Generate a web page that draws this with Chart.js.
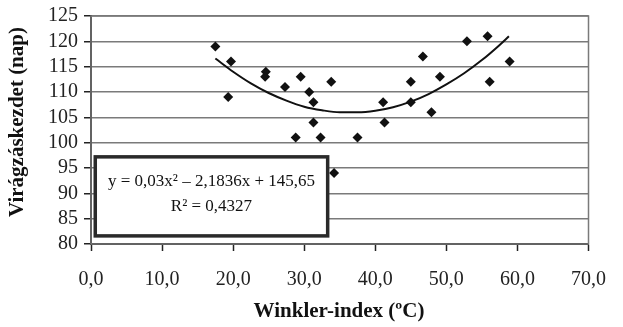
<!DOCTYPE html>
<html>
<head>
<meta charset="utf-8">
<script src="https://cdn.jsdelivr.net/npm/chart.js@4/dist/chart.umd.min.js"></script>
<style>
  html, body { margin: 0; padding: 0; background: #fff; }
  #wrap { width: 623px; height: 327px; }
</style>
</head>
<body>
<div id="wrap"><canvas id="chart" width="623" height="327"></canvas></div>
<script>
const winklerX = [17.5, 19.7, 19.3, 24.6, 24.5, 27.3, 29.5, 28.8, 30.7, 31.3, 31.3, 32.3, 33.8,
  34.2, 37.5, 41.1, 41.3, 45.0, 45.0, 46.7, 47.9, 49.1, 52.9, 55.8, 56.1, 58.9];
const bloomDays = [119, 116, 109, 114, 113, 111, 113, 101, 110, 108, 104, 101, 112,
  94, 101, 108, 104, 112, 108, 117, 106, 113, 120, 121, 112, 116];

// trend curve as drawn
const trendX = [17.5, 20, 22.5, 25, 27.5, 30, 32.5, 35, 37.5, 40, 42.5, 45, 47.5, 50, 52.5, 55, 57.5, 58.8];
const trendY = [116.6, 114.0, 111.7, 109.8, 108.3, 107.1, 106.4, 106.0, 106.0, 106.3, 107.0, 108.1, 109.6, 111.5, 113.7, 116.3, 119.3, 121.0];

const xTickLabels = ['0,0', '10,0', '20,0', '30,0', '40,0', '50,0', '60,0', '70,0'];
const yTickLabels = ['80', '85', '90', '95', '100', '105', '110', '115', '120', '125'];

const xTitle = 'Winkler-index (ºC)';
const yTitle = 'Virágzáskezdet (nap)';
const equationLines = ['y = 0,03x² – 2,1836x + 145,65', 'R² = 0,4327'];

const SERIF = '"Liberation Serif", "DejaVu Serif", serif';

const frame = {
  id: 'frame',
  beforeDatasetsDraw(chart) {
    const { ctx, chartArea: a } = chart;
    ctx.save();
    ctx.strokeStyle = '#7a7a7a';
    ctx.lineWidth = 1.5;
    ctx.strokeRect(a.left, a.top, a.right - a.left, a.bottom - a.top);
    ctx.restore();
  },
  afterDatasetsDraw(chart) {
    const { ctx, scales } = chart;
    // equation box
    const x0 = scales.x.getPixelForValue(0.6), x1 = scales.x.getPixelForValue(33.3);
    const y0 = scales.y.getPixelForValue(97.2), y1 = scales.y.getPixelForValue(81.6);
    ctx.save();
    ctx.fillStyle = '#fff';
    ctx.fillRect(x0, y0, x1 - x0, y1 - y0);
    ctx.strokeStyle = '#2a2a2a';
    ctx.lineWidth = 3.5;
    ctx.strokeRect(x0, y0, x1 - x0, y1 - y0);
    ctx.fillStyle = '#111';
    ctx.font = '17px ' + SERIF;
    ctx.textAlign = 'center';
    ctx.textBaseline = 'middle';
    ctx.fillText(equationLines[0], (x0 + x1) / 2, 182);
    ctx.fillText(equationLines[1], (x0 + x1) / 2, 207);

    // axis titles
    ctx.font = 'bold 21px ' + SERIF;
    ctx.fillStyle = '#111';
    ctx.fillText(xTitle, 339, 312);
    ctx.translate(18, 122);
    ctx.rotate(-Math.PI / 2);
    ctx.fillText(yTitle, 0, 0);
    ctx.restore();
  }
};

new Chart(document.getElementById('chart'), {
  type: 'scatter',
  data: {
    datasets: [
      {
        label: 'Virágzáskezdet',
        data: winklerX.map((x, i) => ({ x, y: bloomDays[i] })),
        pointStyle: 'rectRot',
        pointRadius: 5,
        backgroundColor: '#111',
        borderColor: '#111',
        borderWidth: 0,
        order: 1
      },
      {
        label: 'Trend',
        data: trendX.map((x, i) => ({ x, y: trendY[i] })),
        showLine: true,
        pointRadius: 0,
        borderColor: '#111',
        borderWidth: 2,
        cubicInterpolationMode: 'monotone',
        order: 2
      }
    ]
  },
  options: {
    responsive: false,
    animation: false,
    layout: { padding: { top: 16, right: 17, left: 0, bottom: 0 } },
    plugins: { legend: { display: false }, tooltip: { enabled: false } },
    scales: {
      x: {
        type: 'linear',
        min: 0, max: 70,
        afterFit: s => { s.height = 83; },
        ticks: {
          stepSize: 10,
          autoSkip: false,
          maxRotation: 0,
          color: '#222',
          padding: 17,
          font: { family: SERIF, size: 20 },
          callback: (v, i) => xTickLabels[i]
        },
        grid: { drawOnChartArea: false, tickLength: 7, tickColor: '#222', tickWidth: 1.5 },
        border: { color: '#222', width: 2 }
      },
      y: {
        min: 80, max: 125,
        afterFit: s => { s.width = 91; },
        ticks: {
          stepSize: 5,
          autoSkip: false,
          color: '#222',
          padding: 6,
          font: { family: SERIF, size: 20, lineHeight: 1 },
          callback: (v, i) => yTickLabels[i]
        },
        grid: { color: '#7a7a7a', lineWidth: 1.5, tickLength: 7, tickColor: '#222', tickWidth: 1.5 },
        border: { color: '#222', width: 2 }
      }
    }
  },
  plugins: [frame]
});
</script>
</body>
</html>
